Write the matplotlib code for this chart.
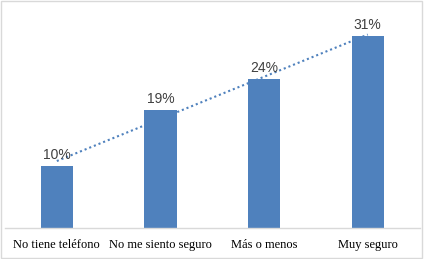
import numpy as np
import matplotlib.pyplot as plt
from matplotlib.patches import Rectangle

categorias = ["No tiene teléfono", "No me siento seguro", "Más o menos", "Muy seguro"]
porcentajes = [10, 19, 24, 31]
etiquetas = ["10%", "19%", "24%", "31%"]

azul = "#4F81BD"

W, H = 424, 259
fig = plt.figure(figsize=(W / 100, H / 100), dpi=100)
ax = fig.add_axes([5 / W, 31 / H, 414.6 / W, 217 / H])

x = np.arange(len(categorias))
ax.bar(x, porcentajes, width=0.31, color=azul, zorder=2)

# linea de tendencia lineal
m, b = np.polyfit(x, porcentajes, 1)
ax.plot(x, m * x + b, linestyle=(0, (1, 1.4)), color=azul, linewidth=1.5, zorder=3)

for xi, v, t in zip(x, porcentajes, etiquetas):
    ax.annotate(t, (xi, v), xytext=(0, 3), textcoords="offset points",
                ha="center", va="bottom", fontsize=10, color="#404040",
                family="Liberation Sans", zorder=4)

ax.set_xlim(-0.5, 3.5)
ax.set_ylim(0, 35)
ax.set_yticks([])
ax.set_xticks(x)
ax.set_xticklabels(categorias, family="Liberation Serif", fontsize=9, color="#000000")
ax.tick_params(axis="x", length=0, pad=8)
for s in ["top", "right", "left"]:
    ax.spines[s].set_visible(False)
ax.spines["bottom"].set_color("#D9D9D9")
ax.spines["bottom"].set_linewidth(1)

fig.patches.append(Rectangle((0.5 / W, 1 / H), 421.5 / W, 257 / H, transform=fig.transFigure,
                             fill=False, edgecolor="#D9D9D9", linewidth=1))

fig.savefig("out.png", dpi=100)
